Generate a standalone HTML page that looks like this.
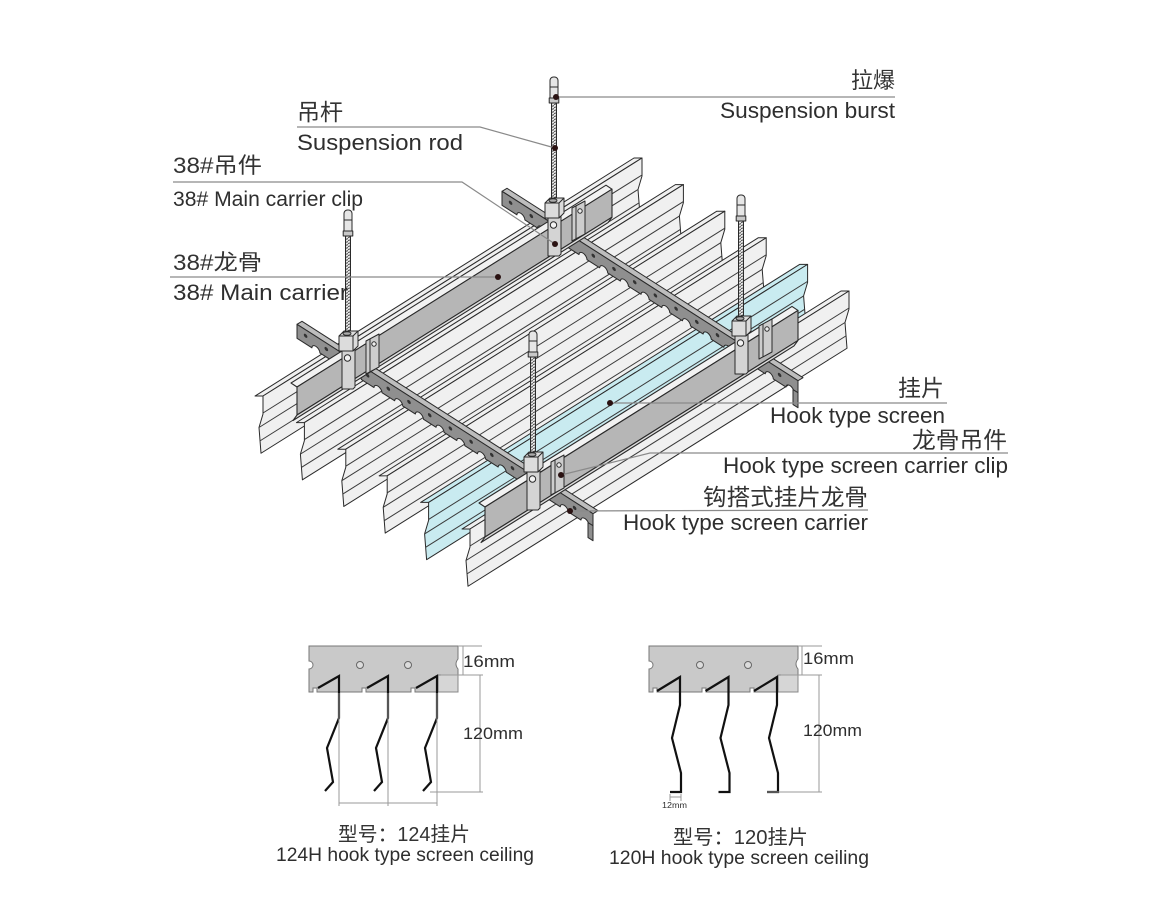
<!DOCTYPE html>
<html><head><meta charset="utf-8">
<style>
html,body{margin:0;padding:0;background:#fff;}
svg{display:block;}
.cn{font-family:"Liberation Sans","Noto Sans CJK SC",sans-serif;fill:#333;}
.en{font-family:"Liberation Sans",sans-serif;fill:#2e2e2e;}
</style></head><body>
<svg width="1160" height="900" viewBox="0 0 1160 900" xmlns="http://www.w3.org/2000/svg">
<defs>
<pattern id="thr" width="6" height="3" patternUnits="userSpaceOnUse">
 <rect width="6" height="3" fill="#e4e4e4"/>
 <line x1="0" y1="2.6" x2="6" y2="0.6" stroke="#444" stroke-width="0.9"/>
</pattern>
<g id="pnl" stroke="#2a2a2a" stroke-width="1" stroke-linejoin="round">
 <polygon points="-8,-5 371,-5 379,0 0,0" vector-effect="non-scaling-stroke"/>
 <polygon points="0,0 379,0 379,18 375,29 377,56 -2,56 -4,29 0,18" vector-effect="non-scaling-stroke"/>
 <line x1="0" y1="17" x2="379" y2="17" stroke="#3a3a3a" vector-effect="non-scaling-stroke"/>
 <line x1="-4" y1="29" x2="375" y2="29" stroke="#3a3a3a" vector-effect="non-scaling-stroke"/>
 <line x1="-3" y1="43" x2="376" y2="43" stroke="#3a3a3a" vector-effect="non-scaling-stroke"/>
</g>
<g id="tb" stroke="#2a2a2a" stroke-width="1" stroke-linejoin="round">
 <polygon points="-73,0 223,0 228,-6.2 -68,-6.2" fill="#bdbdbd" vector-effect="non-scaling-stroke"/>
 <path vector-effect="non-scaling-stroke" fill="#8f8f8f" d="M-73,0 H223 V14 h-4
 a4,4 0 0 0 -8,0 h-12.7 a4,4 0 0 0 -8,0 h-12.7 a4,4 0 0 0 -8,0 h-12.7 a4,4 0 0 0 -8,0 h-12.7
 a4,4 0 0 0 -8,0 h-12.7 a4,4 0 0 0 -8,0 h-12.7 a4,4 0 0 0 -8,0 h-12.7 a4,4 0 0 0 -8,0 h-12.7
 a4,4 0 0 0 -8,0 h-12.7 a4,4 0 0 0 -8,0 h-12.7 a4,4 0 0 0 -8,0 h-12.7 a4,4 0 0 0 -8,0 h-12.7
 a4,4 0 0 0 -8,0 h-12.7 a4,4 0 0 0 -8,0 h-12.7 H-73 Z"/>
 <polygon points="218,12 223,12 223,27 218,27" fill="#8f8f8f" vector-effect="non-scaling-stroke"/>
 <g fill="#333" stroke="none">
  <circle cx="204.6" cy="6" r="1.8"/><circle cx="183.9" cy="6" r="1.8"/><circle cx="163.2" cy="6" r="1.8"/>
  <circle cx="142.5" cy="6" r="1.8"/><circle cx="121.8" cy="6" r="1.8"/><circle cx="101.1" cy="6" r="1.8"/>
  <circle cx="80.4" cy="6" r="1.8"/><circle cx="59.7" cy="6" r="1.8"/><circle cx="39" cy="6" r="1.8"/>
  <circle cx="18.3" cy="6" r="1.8"/><circle cx="-2.4" cy="6" r="1.8"/><circle cx="-23" cy="6" r="1.8"/>
  <circle cx="-43.7" cy="6" r="1.8"/><circle cx="-64.4" cy="6" r="1.8"/>
 </g>
</g>
<g id="cl" stroke="#2a2a2a" stroke-width="1" stroke-linejoin="round">
 <rect x="-2.5" y="-96" width="5" height="98" fill="url(#thr)"/>
 <rect x="-4" y="-121" width="8" height="26" rx="3.5" fill="#e6e6e6"/>
 <line x1="-4" y1="-111" x2="4" y2="-111"/>
 <rect x="-4.8" y="-100" width="9.6" height="5" fill="#c8c8c8"/>
 <polygon points="18,10 31,3 31,36 18,43" fill="#cdcdcd"/>
 <line x1="22" y1="8" x2="22" y2="41"/>
 <circle cx="26" cy="13" r="2.2" fill="#eee"/>
 <polygon points="-9,5 -4,0 10,0 10,15 5,20 -9,20" fill="#dcdcdc"/>
 <polyline points="-9,5 5,5 10,0" fill="none"/>
 <line x1="5" y1="5" x2="5" y2="20"/>
 <ellipse cx="-1" cy="2.5" rx="4" ry="1.8" fill="#aaa"/>
 <polygon points="-6,20 5,20 7,18 7,56 5,58 -6,58" fill="#d4d4d4"/>
 <circle cx="-0.5" cy="27" r="3.2" fill="#f2f2f2"/>
</g>
</defs>

<!-- panels -->
<use href="#pnl" fill="#f0f0f0" transform="matrix(1,-0.628,0,1,263,396)"/>
<use href="#pnl" fill="#f0f0f0" transform="matrix(1,-0.628,0,1,304.4,422.6)"/>
<use href="#pnl" fill="#f0f0f0" transform="matrix(1,-0.628,0,1,345.8,449.2)"/>
<use href="#pnl" fill="#f0f0f0" transform="matrix(1,-0.628,0,1,387.2,475.8)"/>
<use href="#pnl" fill="#c9ebf0" transform="matrix(1,-0.628,0,1,428.6,502.4)"/>
<use href="#pnl" fill="#f0f0f0" transform="matrix(1,-0.628,0,1,470,529)"/>

<!-- toothed hook carriers -->
<use href="#tb" transform="matrix(1,0.64,0,1,370,371)"/>
<use href="#tb" transform="matrix(1,0.64,0,1,575,238)"/>

<!-- main carriers -->
<g transform="matrix(1,-0.628,0,1,297,387)" stroke="#2a2a2a" stroke-width="1.1" stroke-linejoin="round">
 <polygon points="-6,-7.75 309,-7.75 315,0 0,0" fill="#f2f2f2" vector-effect="non-scaling-stroke"/>
 <polygon points="0,0 315,0 315,28 0,28" fill="#b6b6b6" vector-effect="non-scaling-stroke"/>
 <polygon points="0,28 315,28 311,31 -4,31" fill="#dedede" vector-effect="non-scaling-stroke"/>
</g>
<g transform="matrix(1,-0.628,0,1,485,507)" stroke="#2a2a2a" stroke-width="1.1" stroke-linejoin="round">
 <polygon points="-6,-7.75 307,-7.75 313,0 0,0" fill="#f2f2f2" vector-effect="non-scaling-stroke"/>
 <polygon points="0,0 313,0 313,30 0,30" fill="#b6b6b6" vector-effect="non-scaling-stroke"/>
 <polygon points="0,30 313,30 309,33 -4,33" fill="#dedede" vector-effect="non-scaling-stroke"/>
</g>

<!-- rods & clips -->
<use href="#cl" transform="translate(348,331)"/>
<use href="#cl" transform="translate(554,198)"/>
<use href="#cl" transform="translate(741,316)"/>
<use href="#cl" transform="translate(533,452)"/>

<!-- leader lines -->
<g stroke="#8a8a8a" stroke-width="1.2" fill="none">
 <polyline points="556,97 895,97"/>
 <polyline points="297,127 480,127 555,148"/>
 <polyline points="173,182 462,182 555,244"/>
 <polyline points="170,277 498,277"/>
 <polyline points="610,403 947,403"/>
 <polyline points="561,475 650,453 1008,453"/>
 <polyline points="570,511 868,510"/>
</g>
<g fill="#2a1212">
 <circle cx="556" cy="97" r="3"/><circle cx="555" cy="148" r="3"/><circle cx="555" cy="244" r="3"/>
 <circle cx="498" cy="277" r="3"/><circle cx="610" cy="403" r="3"/><circle cx="561" cy="475" r="3"/>
 <circle cx="570" cy="511" r="3"/>
</g>

<!-- labels -->
<text class="cn" x="895" y="88" font-size="22" text-anchor="end">拉爆</text>
<text class="en" x="720" y="118" font-size="22" textLength="175" lengthAdjust="spacingAndGlyphs">Suspension burst</text>
<text class="cn" x="297" y="120" font-size="23" textLength="46" lengthAdjust="spacingAndGlyphs">吊杆</text>
<text class="en" x="297" y="150" font-size="22" textLength="166" lengthAdjust="spacingAndGlyphs">Suspension rod</text>
<text class="cn" x="173" y="173" font-size="22" textLength="89" lengthAdjust="spacingAndGlyphs">38#吊件</text>
<text class="en" x="173" y="206" font-size="21" textLength="190" lengthAdjust="spacingAndGlyphs">38# Main carrier clip</text>
<text class="cn" x="173" y="270" font-size="22" textLength="89" lengthAdjust="spacingAndGlyphs">38#龙骨</text>
<text class="en" x="173" y="300" font-size="22" textLength="175" lengthAdjust="spacingAndGlyphs">38# Main carrier</text>
<text class="cn" x="898" y="396" font-size="23" textLength="46" lengthAdjust="spacingAndGlyphs">挂片</text>
<text class="en" x="770" y="423" font-size="22" textLength="175" lengthAdjust="spacingAndGlyphs">Hook type screen</text>
<text class="cn" x="912" y="448" font-size="23" textLength="95" lengthAdjust="spacingAndGlyphs">龙骨吊件</text>
<text class="en" x="723" y="473" font-size="22" textLength="285" lengthAdjust="spacingAndGlyphs">Hook type screen carrier clip</text>
<text class="cn" x="703" y="505" font-size="23" textLength="165" lengthAdjust="spacingAndGlyphs">钩搭式挂片龙骨</text>
<text class="en" x="623" y="530" font-size="22" textLength="245" lengthAdjust="spacingAndGlyphs">Hook type screen carrier</text>

<!-- left section diagram -->
<path d="M309,646 H458 V659 Q454,664 458,669 V692 H415 V688 H411 V692 H366 V688 H362 V692 H317 V688 H313 V692 H309 V669 A4,4 0 0 0 309,661 Z" fill="#c9c9c9" stroke="#777" stroke-width="1"/>
<rect x="438" y="675" width="20" height="17" fill="#d6d6d6" stroke="#888" stroke-width="1"/>
<circle cx="360" cy="665" r="3.5" fill="#dcdcdc" stroke="#666"/>
<circle cx="408" cy="665" r="3.5" fill="#dcdcdc" stroke="#666"/>
<g stroke="#111" stroke-width="2.2" fill="none" stroke-linejoin="miter">
 <path d="M318,688 L339,676 L339,718 L327,748 L333,782 L325,791"/>
 <path d="M367,688 L388,676 L388,718 L376,748 L382,782 L374,791"/>
 <path d="M416,688 L437,676 L437,718 L425,748 L431,782 L423,791"/>
</g>
<g stroke="#9a9a9a" stroke-width="1" fill="none">
 <line x1="458" y1="646" x2="482" y2="646"/>
 <line x1="463" y1="646" x2="463" y2="675"/>
 <line x1="441" y1="675" x2="483" y2="675"/>
 <line x1="480" y1="675" x2="480" y2="792"/>
 <line x1="430" y1="792" x2="483" y2="792"/>
 <line x1="339" y1="693" x2="339" y2="806"/>
 <line x1="388" y1="693" x2="388" y2="806"/>
 <line x1="437" y1="693" x2="437" y2="806"/>
 <line x1="339" y1="803" x2="437" y2="803"/>
</g>
<text class="en" x="463" y="667" font-size="17" textLength="52" lengthAdjust="spacingAndGlyphs">16mm</text>
<text class="en" x="463" y="739" font-size="17" textLength="60" lengthAdjust="spacingAndGlyphs">120mm</text>

<!-- right section diagram -->
<path d="M649,646 H798 V659 Q794,664 798,669 V692 H754 V688 H750 V692 H706 V688 H702 V692 H657 V688 H653 V692 H649 V669 A4,4 0 0 0 649,661 Z" fill="#c9c9c9" stroke="#777" stroke-width="1"/>
<rect x="778" y="675" width="20" height="17" fill="#d6d6d6" stroke="#888" stroke-width="1"/>
<circle cx="700" cy="665" r="3.5" fill="#dcdcdc" stroke="#666"/>
<circle cx="748" cy="665" r="3.5" fill="#dcdcdc" stroke="#666"/>
<g stroke="#111" stroke-width="2.2" fill="none" stroke-linejoin="miter">
 <path d="M657,691 L680,677 L680,705 L672,738 L681,773 L681,792 L670,792"/>
 <path d="M705.5,691 L728.5,677 L728.5,705 L720.5,738 L729.5,773 L729.5,792 L718.5,792"/>
 <path d="M754,691 L777,677 L777,705 L769,738 L778,773 L778,792 L767,792"/>
</g>
<g stroke="#9a9a9a" stroke-width="1" fill="none">
 <line x1="798" y1="646" x2="822" y2="646"/>
 <line x1="802" y1="646" x2="802" y2="675"/>
 <line x1="781" y1="675" x2="822" y2="675"/>
 <line x1="819" y1="675" x2="819" y2="792"/>
 <line x1="767" y1="792" x2="822" y2="792"/>
 <line x1="670" y1="794" x2="670" y2="801"/>
 <line x1="681" y1="794" x2="681" y2="801"/>
 <line x1="670" y1="797" x2="681" y2="797"/>
</g>
<text class="en" x="803" y="664" font-size="17" textLength="51" lengthAdjust="spacingAndGlyphs">16mm</text>
<text class="en" x="803" y="736" font-size="17" textLength="59" lengthAdjust="spacingAndGlyphs">120mm</text>
<text class="en" x="662" y="808" font-size="8" textLength="25" lengthAdjust="spacingAndGlyphs">12mm</text>

<!-- captions -->
<text class="cn" x="338" y="841" font-size="20" textLength="132" lengthAdjust="spacingAndGlyphs">型号：124挂片</text>
<text class="en" x="276" y="861" font-size="19" textLength="258" lengthAdjust="spacingAndGlyphs">124H hook type screen ceiling</text>
<text class="cn" x="673" y="844" font-size="20" textLength="135" lengthAdjust="spacingAndGlyphs">型号：120挂片</text>
<text class="en" x="609" y="864" font-size="19" textLength="260" lengthAdjust="spacingAndGlyphs">120H hook type screen ceiling</text>
</svg>
</body></html>
